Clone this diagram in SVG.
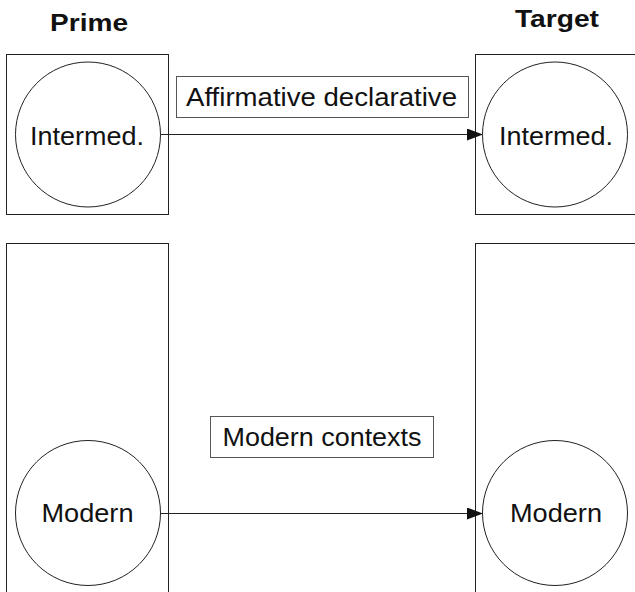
<svg xmlns="http://www.w3.org/2000/svg" width="635" height="592" viewBox="0 0 635 592">
<defs>
<style>
.box{fill:none;stroke:#222;stroke-width:1}
.node{fill:#fff;stroke:#222;stroke-width:1}
.lbl{fill:#fff;stroke:#555;stroke-width:1}
.t{font-family:"Liberation Sans",Arial,sans-serif;font-size:26px;fill:#111;text-anchor:middle}
.h{font-family:"Liberation Sans",Arial,sans-serif;font-size:24px;font-weight:bold;fill:#111;text-anchor:middle}
.edge{stroke:#222;stroke-width:1;fill:none}
</style>
<marker id="arr" viewBox="0 0 16 12" refX="16" refY="6" markerWidth="16" markerHeight="12" markerUnits="userSpaceOnUse" orient="auto">
<path d="M0,0 L16,6 L0,12 Z" fill="#111"/>
</marker>
</defs>
<rect width="635" height="592" fill="#fff"/>
<g id="headers">
<text class="h" x="89" y="31" textLength="78" lengthAdjust="spacingAndGlyphs">Prime</text>
<text class="h" x="557" y="26.5" textLength="84" lengthAdjust="spacingAndGlyphs">Target</text>
</g>
<g id="prime-top-frame"><rect class="box" x="6.5" y="54.5" width="162" height="160"/></g>
<g id="target-top-frame"><rect class="box" x="475.5" y="54.5" width="162" height="160"/></g>
<g id="prime-bottom-frame"><rect class="box" x="6.5" y="243.5" width="162" height="360"/></g>
<g id="target-bottom-frame"><rect class="box" x="475.5" y="243.5" width="162" height="360"/></g>
<g id="connectors">
<line class="edge" x1="160" y1="134.5" x2="483" y2="134.5" marker-end="url(#arr)"/>
<line class="edge" x1="160" y1="513.5" x2="483" y2="513.5" marker-end="url(#arr)"/>
</g>
<g id="prime-intermed">
<circle class="node" cx="88" cy="134.5" r="72.5"/>
<text class="t" x="87" y="145" textLength="114" lengthAdjust="spacingAndGlyphs">Intermed.</text>
</g>
<g id="target-intermed">
<circle class="node" cx="555" cy="134.5" r="72.5"/>
<text class="t" x="556" y="145" textLength="114" lengthAdjust="spacingAndGlyphs">Intermed.</text>
</g>
<g id="prime-modern">
<circle class="node" cx="88" cy="513" r="72.5"/>
<text class="t" x="87.5" y="521.5" textLength="92" lengthAdjust="spacingAndGlyphs">Modern</text>
</g>
<g id="target-modern">
<circle class="node" cx="555" cy="513" r="72.5"/>
<text class="t" x="556" y="521.5" textLength="92" lengthAdjust="spacingAndGlyphs">Modern</text>
</g>
<g id="label-affirmative">
<rect class="lbl" x="176.5" y="76.5" width="292" height="41"/>
<text class="t" x="321.5" y="105.5" textLength="271" lengthAdjust="spacingAndGlyphs">Affirmative declarative</text>
</g>
<g id="label-modern">
<rect class="lbl" x="210.5" y="416.5" width="223" height="41"/>
<text class="t" x="322" y="446" textLength="199" lengthAdjust="spacingAndGlyphs">Modern contexts</text>
</g>
</svg>
